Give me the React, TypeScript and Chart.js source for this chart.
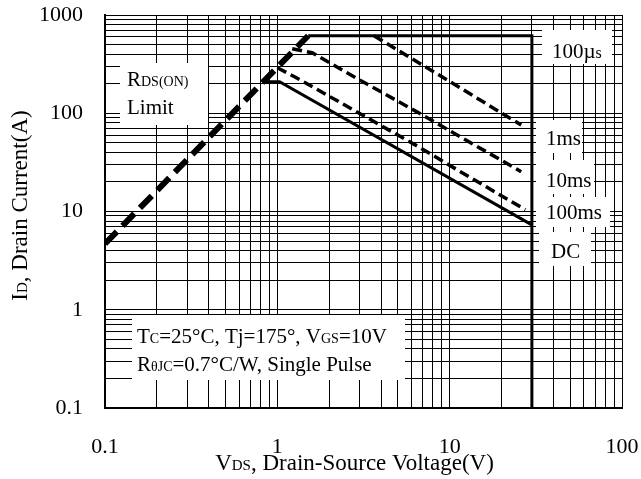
import React, { useEffect, useRef } from "react";
import { Chart, registerables } from "chart.js";

Chart.register(...registerables);

// ---- data ----
const vdsRds = [0.1, 1.51];
const idRds = [4.7, 615];

const vdsLimit = [1.51, 30, 30];
const idLimit = [615, 615, 0.1];

const vds100us = [3.64, 8.64, 26];
const id100us = [615, 246, 76];

const vds1ms = [1.22, 1.59, 2.98, 6.6, 26];
const id1ms = [454, 413, 220, 101, 25.4];

const vds10ms = [1.0, 1.29, 6.6, 9.87, 27.5];
const id10ms = [290, 230, 45.6, 29.9, 10.4];

const vdsDC = [0.86, 1.03, 30];
const idDC = [209, 209, 7.3];

// ticks
const xMajor = [0.1, 1, 10, 100];
const xMajorLabels = ["0.1", "1", "10", "100"];
const yMajor = [0.1, 1, 10, 100, 1000];
const yMajorLabels = ["0.1", "1", "10", "100", "1000"];
const minorSteps = [1, 2, 3, 4, 5, 6, 7, 8, 9];

const FONT = '"Liberation Serif", "Times New Roman", serif';

type Seg = { t: string; s: number };

const toPts = (xs: number[], ys: number[]) => xs.map((x, i) => ({ x, y: ys[i] }));

const buildTicks = (majors: number[]) => {
  const out: number[] = [];
  for (let i = 0; i < majors.length - 1; i++) {
    for (const m of minorSteps) out.push(+(majors[i] * m).toPrecision(6));
  }
  out.push(majors[majors.length - 1]);
  return out;
};

const labelFor = (majors: number[], labels: string[], v: number) => {
  const i = majors.findIndex((m) => Math.abs(m - v) / m < 1e-6);
  return i >= 0 ? labels[i] : "";
};

// annotation layout (pixel layout, not data)
const boxes = [
  { x: 120, y: 63, w: 88, h: 62 },
  { x: 542, y: 30, w: 70, h: 34 },
  { x: 536, y: 120, w: 46, h: 33 },
  { x: 536, y: 160, w: 58, h: 34 },
  { x: 536, y: 197, w: 74, h: 30 },
  { x: 539, y: 232, w: 52, h: 34 },
  { x: 132, y: 315, w: 273, h: 65 },
];

const B = 21;
const S = 14;
const texts: { x: number; y: number; segs: Seg[] }[] = [
  { x: 127, y: 86, segs: [{ t: "R", s: B }, { t: "DS(ON)", s: S }] },
  { x: 127, y: 114, segs: [{ t: "Limit", s: B }] },
  { x: 552, y: 58, segs: [{ t: "100\u00b5", s: B }, { t: "s", s: S + 2 }] },
  { x: 546, y: 145, segs: [{ t: "1ms", s: B }] },
  { x: 546, y: 187, segs: [{ t: "10ms", s: B }] },
  { x: 546, y: 219, segs: [{ t: "100ms", s: B }] },
  { x: 551, y: 258, segs: [{ t: "DC", s: B }] },
  {
    x: 137,
    y: 343,
    segs: [
      { t: "T", s: B },
      { t: "C", s: S },
      { t: "=25\u00b0C, Tj=175\u00b0, V", s: B },
      { t: "GS", s: S },
      { t: "=10V", s: B },
    ],
  },
  {
    x: 137,
    y: 371,
    segs: [
      { t: "R", s: B },
      { t: "\u03b8JC", s: S },
      { t: "=0.7\u00b0C/W, Single Pulse", s: B },
    ],
  },
];

const xTitle: Seg[] = [
  { t: "V", s: 23 },
  { t: "DS", s: 15 },
  { t: ", Drain-Source Voltage(V)", s: 23 },
];
const yTitle: Seg[] = [
  { t: "I", s: 23 },
  { t: "D", s: 15 },
  { t: ", Drain Current(A)", s: 23 },
];

const segWidth = (ctx: CanvasRenderingContext2D, segs: Seg[]) =>
  segs.reduce((w, g) => {
    ctx.font = `${g.s}px ${FONT}`;
    return w + ctx.measureText(g.t).width;
  }, 0);

const drawSegs = (ctx: CanvasRenderingContext2D, x: number, y: number, segs: Seg[]) => {
  let cx = x;
  ctx.textBaseline = "alphabetic";
  ctx.textAlign = "left";
  ctx.fillStyle = "#000";
  for (const g of segs) {
    ctx.font = `${g.s}px ${FONT}`;
    ctx.fillText(g.t, cx, y);
    cx += ctx.measureText(g.t).width;
  }
};

const annotPlugin = {
  id: "annot",
  beforeDatasetsDraw(chart: any) {
    const ctx = chart.ctx as CanvasRenderingContext2D;
    ctx.save();
    ctx.fillStyle = "#fff";
    for (const b of boxes) ctx.fillRect(b.x, b.y, b.w, b.h);
    for (const t of texts) drawSegs(ctx, t.x, t.y, t.segs);
    ctx.restore();
  },
  afterDraw(chart: any) {
    const ctx = chart.ctx as CanvasRenderingContext2D;
    const area = chart.chartArea;
    ctx.save();
    const wx = segWidth(ctx, xTitle);
    drawSegs(ctx, (area.left + area.right) / 2 - wx / 2 - 9, 470, xTitle);
    const wy = segWidth(ctx, yTitle);
    ctx.translate(27, (area.top + area.bottom) / 2 - 6);
    ctx.rotate(-Math.PI / 2);
    drawSegs(ctx, -wy / 2, 0, yTitle);
    ctx.restore();
  },
};

export default function App() {
  const ref = useRef<HTMLCanvasElement>(null);
  useEffect(() => {
    if (!ref.current) return;
    const solid = { borderColor: "#000", pointRadius: 0, fill: false, tension: 0 };
    const chart = new Chart(ref.current, {
      type: "line",
      data: {
        datasets: [
          { ...solid, label: "RDS(ON) Limit", data: toPts(vdsRds, idRds), borderWidth: 6, borderDash: [17, 8] },
          { ...solid, label: "Limit", data: toPts(vdsLimit, idLimit), borderWidth: 3 },
          { ...solid, label: "100us", data: toPts(vds100us, id100us), borderWidth: 3.5, borderDash: [10, 5] },
          { ...solid, label: "1ms", data: toPts(vds1ms, id1ms), borderWidth: 3.5, borderDash: [10, 5] },
          { ...solid, label: "10ms", data: toPts(vds10ms, id10ms), borderWidth: 3.5, borderDash: [10, 5] },
          { ...solid, label: "DC", data: toPts(vdsDC, idDC), borderWidth: 3 },
        ] as any,
      },
      options: {
        animation: false,
        responsive: false,
        devicePixelRatio: 1,
        layout: { padding: { left: 0, right: 19, top: 15, bottom: 0 } },
        plugins: { legend: { display: false }, tooltip: { enabled: false } },
        scales: {
          x: {
            type: "logarithmic",
            min: 0.1,
            max: 100,
            afterFit: (s: any) => {
              s.height = 71;
              s.paddingLeft = 0;
              s.paddingRight = 0;
            },
            afterBuildTicks: (s: any) => {
              s.ticks = buildTicks(xMajor).map((v) => ({ value: v, major: xMajor.includes(v) }));
            },
            grid: { color: "#000", lineWidth: 1, drawTicks: false },
            border: { color: "#000", width: 2 },
            ticks: {
              autoSkip: false,
              maxRotation: 0,
              padding: 26,
              color: "#000",
              font: { family: FONT, size: 22 },
              callback: (v: any) => labelFor(xMajor, xMajorLabels, Number(v)),
            },
          },
          y: {
            type: "logarithmic",
            min: 0.1,
            max: 1000,
            afterFit: (s: any) => {
              s.width = 105;
              s.paddingTop = 0;
              s.paddingBottom = 0;
            },
            afterBuildTicks: (s: any) => {
              s.ticks = buildTicks(yMajor).map((v) => ({ value: v, major: yMajor.includes(v) }));
            },
            grid: { color: "#000", lineWidth: 1, drawTicks: false },
            border: { color: "#000", width: 2 },
            ticks: {
              autoSkip: false,
              padding: 22,
              color: "#000",
              font: { family: FONT, size: 22 },
              callback: (v: any) => labelFor(yMajor, yMajorLabels, Number(v)),
            },
          },
        },
      },
      plugins: [annotPlugin],
    } as any);
    return () => chart.destroy();
  }, []);
  return (
    <div style={{ position: "absolute", left: 0, top: 0, width: 641, height: 479, background: "#fff" }}>
      <canvas ref={ref} width={641} height={479} style={{ width: 641, height: 479, display: "block" }} />
    </div>
  );
}
